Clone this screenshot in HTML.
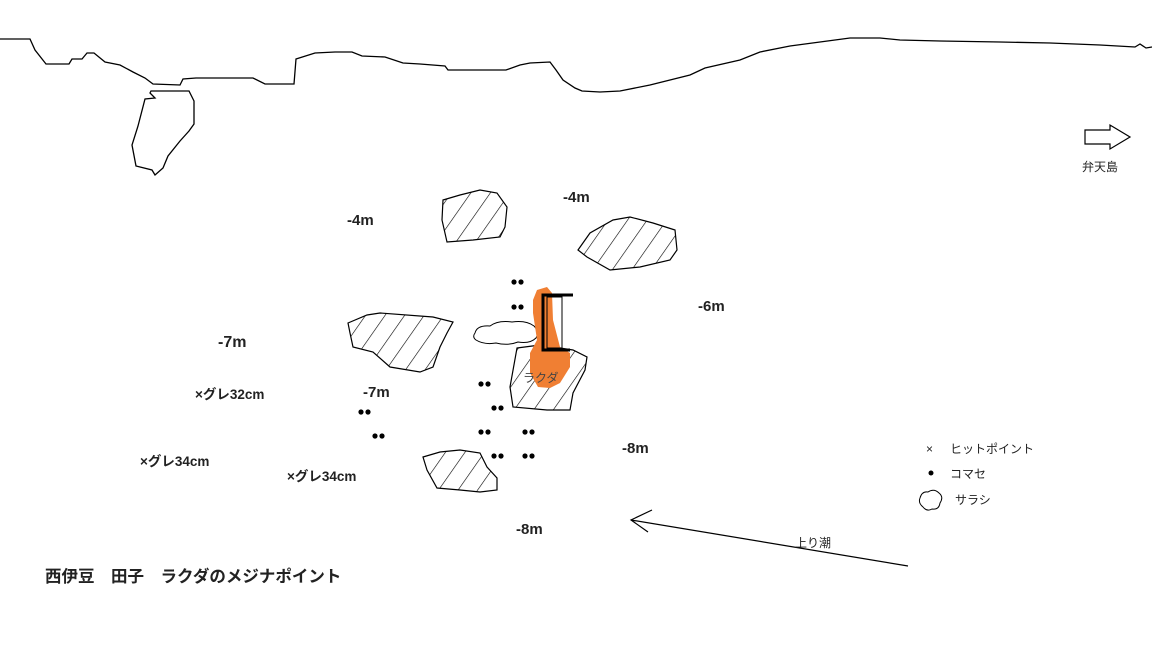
<!DOCTYPE html>
<html><head><meta charset="utf-8"><style>
body{margin:0;background:#fff}
svg{display:block}
text{font-family:"Liberation Sans","Noto Sans CJK JP",sans-serif;fill:#222}
.b{font-weight:bold;font-size:15px}
.s{font-size:12px}
.g{font-size:13.5px;font-weight:600}
</style></head><body>
<svg width="1152" height="648" viewBox="0 0 1152 648" xmlns="http://www.w3.org/2000/svg">
<defs>
<pattern id="h" patternUnits="userSpaceOnUse" width="16" height="16" patternTransform="rotate(35)">
<rect width="16" height="16" fill="#fff"/><line x1="0" y1="0" x2="0" y2="16" stroke="#000" stroke-width="1.2"/>
</pattern>
</defs>
<g fill="none" stroke="#000" stroke-width="1.3">
<polyline points="0,39 30,39 35,50 46,64 69,64 72,59 82,59 87,53 94,53 105,62 120,65 133,72 145,78 153,84 180,85 183,79 196,78 253,78 265,84 294,84 296,59 315,53 335,52 352,52 362,56 385,57 403,63 420,64 445,66 448,70 506,70 520,65 530,63 550,62 556,70 563,80 575,88 582,91 600,92 620,91 650,85 690,75 705,68 740,60 760,52 790,46 820,42 850,38 880,38 900,40 940,41 1000,42 1050,43 1100,45 1135,47 1140,44 1146,48 1152,47"/>
<polygon points="151,91 189,91 194,101 194,124 189,131 180,141 168,156 163,168 155,175 152,170 136,166 132,145 138,126 145,99 155,98 150,93"/>
</g>
<g stroke="#000" stroke-width="1.2" fill="url(#h)">
<polygon points="443,200 460,195 480,190 497,193 507,207 505,227 500,237 473,240 447,242 442,220"/>
<polygon points="578,250 590,233 613,220 630,217 653,223 675,230 677,250 670,260 640,267 610,270 587,257"/>
<polygon points="348,323 367,315 380,313 433,317 453,322 447,333 440,347 433,367 420,372 390,367 373,352 353,347 350,333"/>
<polygon points="517,348 540,345 573,350 587,357 585,370 573,393 570,410 547,410 513,407 510,387"/>
<polygon points="423,457 440,452 460,450 480,453 487,467 497,478 497,490 480,492 460,490 437,488 427,470"/>
</g>
<path d="M475,333 q2,-8 15,-7 q8,-6 22,-4 q14,-2 22,4 q6,6 2,12 q-6,6 -18,4 q-10,4 -22,1 q-12,2 -20,-3 q-4,-3 -1,-7z" fill="#fff" stroke="#000" stroke-width="1"/>
<polygon points="537,290 547,287 552,293 553,320 560,347 570,353 570,367 560,383 550,388 538,387 530,373 530,353 537,340 533,313 533,300" fill="#f07f33"/>
<rect x="547" y="297" width="15" height="51" fill="none" stroke="#000" stroke-width="1"/>
<polyline points="573,295 543,295 543,350 570,350" fill="none" stroke="#000" stroke-width="3"/>
<text x="523" y="382" class="s" style="fill:#444">ラクダ</text>
<g fill="#000">
<circle cx="514" cy="282" r="2.6"/><circle cx="521" cy="282" r="2.6"/>
<circle cx="514" cy="307" r="2.6"/><circle cx="521" cy="307" r="2.6"/>
<circle cx="481" cy="384" r="2.6"/><circle cx="488" cy="384" r="2.6"/>
<circle cx="494" cy="408" r="2.6"/><circle cx="501" cy="408" r="2.6"/>
<circle cx="361" cy="412" r="2.6"/><circle cx="368" cy="412" r="2.6"/>
<circle cx="375" cy="436" r="2.6"/><circle cx="382" cy="436" r="2.6"/>
<circle cx="481" cy="432" r="2.6"/><circle cx="488" cy="432" r="2.6"/>
<circle cx="525" cy="432" r="2.6"/><circle cx="532" cy="432" r="2.6"/>
<circle cx="494" cy="456" r="2.6"/><circle cx="501" cy="456" r="2.6"/>
<circle cx="525" cy="456" r="2.6"/><circle cx="532" cy="456" r="2.6"/>
<circle cx="931" cy="473" r="2.5"/>
</g>
<text x="347" y="225" class="b">-4m</text>
<text x="563" y="202" class="b">-4m</text>
<text x="698" y="311" class="b">-6m</text>
<text x="218" y="347" class="b" style="font-size:16px">-7m</text>
<text x="363" y="397" class="b">-7m</text>
<text x="622" y="453" class="b">-8m</text>
<text x="516" y="534" class="b">-8m</text>
<text x="195" y="399" class="g">×グレ32cm</text>
<text x="140" y="466" class="g">×グレ34cm</text>
<text x="287" y="481" class="g">×グレ34cm</text>
<text x="45" y="582" class="b" style="font-size:16.5px">西伊豆　田子　ラクダのメジナポイント</text>
<g stroke="#000" stroke-width="1.2" fill="none">
<line x1="908" y1="566" x2="631" y2="520"/>
<polyline points="652,510 631,520 648,532"/>
<polygon points="1085,130 1110,130 1110,125 1130,137 1110,149 1110,144 1085,144" fill="#fff"/>
<path d="M920,498 q2,-7 8,-6 q6,-4 11,1 q5,4 1,10 q-1,7 -8,6 q-5,3 -9,-2 q-5,-4 -3,-9z" stroke-width="1"/>
</g>
<text x="795" y="547" class="s">上り潮</text>
<text x="1082" y="171" class="s">弁天島</text>
<text x="926" y="453" class="s">×</text>
<text x="950" y="453" class="s">ヒットポイント</text>
<text x="950" y="478" class="s">コマセ</text>
<text x="955" y="504" class="s">サラシ</text>
</svg>
</body></html>
